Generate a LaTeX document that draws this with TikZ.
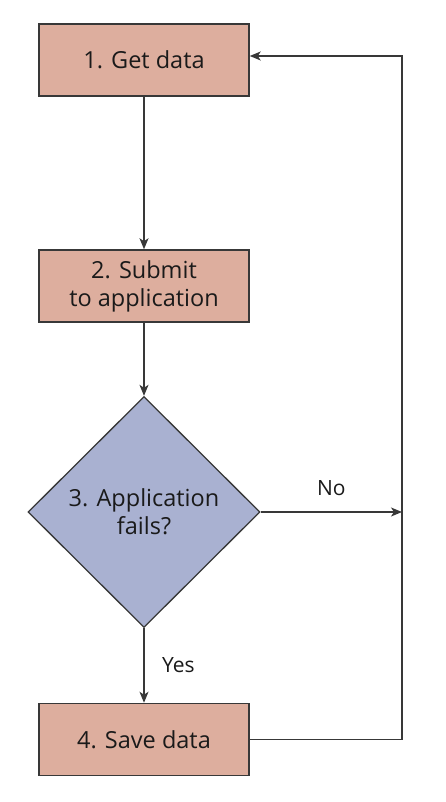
\documentclass[tikz,border=0pt]{standalone}
\usepackage{fontspec}
\setmainfont{Open Sans}
\usetikzlibrary{shapes.geometric,arrows.meta}
\definecolor{boxfill}{HTML}{DDAE9E}
\definecolor{diafill}{HTML}{A9B1D1}
\definecolor{edge}{HTML}{383838}
\definecolor{txt}{HTML}{1A1A1A}
\begin{document}
\begin{tikzpicture}[x=1pt,y=-1pt,
  stepbox/.style={draw=edge,line width=1.5pt,fill=boxfill,minimum width=210pt,minimum height=72pt,inner sep=0pt,align=center,font=\fontsize{23.5}{28}\selectfont,text=txt},
  decision/.style={diamond,draw=edge,line width=1.3pt,fill=diafill,minimum width=232pt,minimum height=231pt,inner sep=0pt,align=center,font=\fontsize{23.5}{28}\selectfont,text=txt},
  conn/.style={draw=edge,line width=1.5pt},
  arr/.style={conn,-{Stealth[length=11pt,width=9pt,inset=3pt]}},
  lbl/.style={font=\fontsize{21}{24}\selectfont,text=txt}]
\useasboundingbox (0,0) rectangle (446,802);
\node[stepbox] (b1) at (144,60) {1. Get data};
\node[stepbox] (b2) at (144,286) {2. Submit\\to application};
\node[decision] (d3) at (144,512) {3. Application\\fails?};
\node[stepbox] (b4) at (144,739.5) {4. Save data};
\coordinate (rno) at (402,512);
\coordinate (rbot) at (402,739.5);
\draw[arr] (b1.south) -- (b2.north);
\draw[arr] (b2.south) -- (d3.north);
\draw[arr] (d3.east) -- node[lbl,above=12pt] (no) {No} (rno);
\draw[arr] (d3.south) -- node[lbl,right=14pt] (yes) {Yes} (b4.north);
\draw[arr] (b4.east) -- (rbot) |- ([yshift=4pt]b1.east);
\end{tikzpicture}
\end{document}
